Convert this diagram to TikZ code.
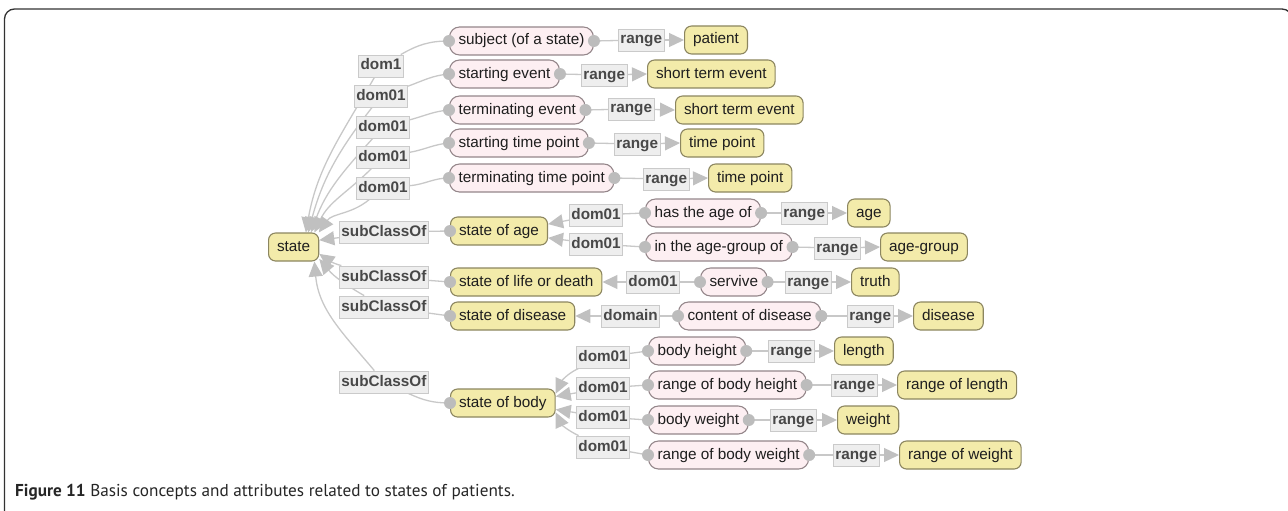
\documentclass[tikz,border=0pt]{standalone}
\usepackage{fontspec}
\setmainfont{Liberation Sans}
\newfontfamily\capfont{PT Sans}
\usetikzlibrary{arrows.meta}

\definecolor{clsfill}{RGB}{243,235,170}
\definecolor{clsdraw}{RGB}{140,134,96}
\definecolor{propfill}{RGB}{253,239,242}
\definecolor{propdraw}{RGB}{148,134,138}
\definecolor{labfill}{RGB}{238,238,238}
\definecolor{labdraw}{RGB}{202,202,202}
\definecolor{labtext}{RGB}{72,72,72}
\definecolor{nodetext}{RGB}{30,30,30}
\definecolor{edgec}{RGB}{200,200,200}
\definecolor{tipc}{RGB}{192,192,192}
\definecolor{dotc}{RGB}{188,188,188}
\definecolor{framec}{RGB}{50,50,50}

\pgfdeclarelayer{bg}
\pgfsetlayers{bg,main}

\begin{document}
\begin{tikzpicture}[x=1pt,y=-1pt,
  every node/.style={font=\fontsize{15.3}{18}\selectfont, text height=11pt, text depth=3pt},
  cls/.style={draw=clsdraw, fill=clsfill, line width=1.1pt, rounded corners=7pt,
    minimum height=28pt, inner xsep=8.5pt, anchor=west, text=nodetext},
  prop/.style={draw=propdraw, fill=propfill, line width=1.1pt, rounded corners=10pt,
    minimum height=28pt, inner xsep=9pt, anchor=west, text=nodetext},
  lab/.style={draw=labdraw, fill=labfill, line width=0.8pt, minimum height=22pt,
    inner xsep=2pt, font=\fontsize{15.3}{18}\selectfont\bfseries, text=labtext, anchor=west},
  edge/.style={draw=edgec, line width=1.3pt},
  arr/.style={edge, -{Triangle[length=15pt,width=14pt,color=tipc]}},
  dotfill/.style={fill=dotc}
]
\useasboundingbox (0,0) rectangle (1288,511);

% page frame
\begin{scope}
  \clip (0,0) rectangle (1288,511);
  \draw[framec, line width=1.3pt, rounded corners=10pt] (4.5,9) rectangle (1292,540);
\end{scope}

% root class
\node[cls] (state) at (268,247) {state};

% properties whose domain is "state"
\node[prop] (p1) at (449,41)  {subject (of a state)};
\node[lab]  (r1) at (618,40)  {range};
\node[cls]  (c1) at (684,40)  {patient};
\node[prop] (p2) at (449,74)  {starting event};
\node[lab]  (r2) at (581,75)  {range};
\node[cls]  (c2) at (647,74)  {short term event};
\node[prop] (p3) at (449,110) {terminating event};
\node[lab]  (r3) at (608,109) {range};
\node[cls]  (c3) at (675,110) {short term event};
\node[prop] (p4) at (449,143) {starting time point};
\node[lab]  (r4) at (614,144) {range};
\node[cls]  (c4) at (680,143) {time point};
\node[prop] (p5) at (449,178) {terminating time point};
\node[lab]  (r5) at (643,179) {range};
\node[cls]  (c5) at (708,178) {time point};

\node[lab, anchor=center] (d1) at (381,66)  {dom1};
\node[lab, anchor=center] (d2) at (381,96)  {dom01};
\node[lab, anchor=center] (d3) at (383,127) {dom01};
\node[lab, anchor=center] (d4) at (383,157) {dom01};
\node[lab, anchor=center] (d5) at (383,188) {dom01};

% subclasses
\node[lab] (sc1) at (339,232) {subClassOf};
\node[lab] (sc2) at (339,277) {subClassOf};
\node[lab] (sc3) at (339,307) {subClassOf};
\node[lab] (sc4) at (339,382) {subClassOf};

% state of age
\node[cls]  (sa)  at (450,231) {state of age};
\node[lab]  (ad1) at (569,215) {dom01};
\node[lab]  (ad2) at (569,244) {dom01};
\node[prop] (ha)  at (645,213) {has the age of};
\node[lab]  (ra1) at (781,213) {range};
\node[cls]  (age) at (847,213) {age};
\node[prop] (ig)  at (645,247) {in the age-group of};
\node[lab]  (ra2) at (814,248) {range};
\node[cls]  (agg) at (880,247) {age-group};

% state of life or death
\node[cls]  (sl)  at (450,282) {state of life or death};
\node[lab]  (ld)  at (626,282) {dom01};
\node[prop] (sv)  at (700,282) {servive};
\node[lab]  (rl)  at (785,282) {range};
\node[cls]  (tr)  at (851,282) {truth};

% state of disease
\node[cls]  (sd)  at (450,316) {state of disease};
\node[lab]  (dd)  at (601,316) {domain};
\node[prop] (cd)  at (678,316) {content of disease};
\node[lab]  (rd)  at (847,316) {range};
\node[cls]  (dis) at (913,316) {disease};

% state of body
\node[cls]  (sb)  at (450,403) {state of body};
\node[lab]  (bd1) at (576,357) {dom01};
\node[lab]  (bd2) at (576,388) {dom01};
\node[lab]  (bd3) at (576,417) {dom01};
\node[lab]  (bd4) at (576,447) {dom01};
\node[prop] (bh)  at (648,351) {body height};
\node[lab]  (rb1) at (768,351) {range};
\node[cls]  (len) at (834,351) {length};
\node[prop] (rbh) at (648,385) {range of body height};
\node[lab]  (rb2) at (831,385) {range};
\node[cls]  (rol) at (897,385) {range of length};
\node[prop] (bw)  at (648,420) {body weight};
\node[lab]  (rb3) at (770,420) {range};
\node[cls]  (wt)  at (837,420) {weight};
\node[prop] (rbw) at (648,455) {range of body weight};
\node[lab]  (rb4) at (833,455) {range};
\node[cls]  (row) at (899,455) {range of weight};

% connectors, behind the nodes
\begin{pgfonlayer}{bg}
  % domain links into "state"
  \draw[edge] (p1.west) to[out=180,in=30] (d1);
  \draw[arr]  (d1) to[out=240,in=80] (state.50);
  \draw[edge] (p2.west) to[out=185,in=20] (d2);
  \draw[arr]  (d2) to[out=232,in=75] (state.45);
  \draw[edge] (p3.west) to[out=185,in=15] (d3);
  \draw[arr]  (d3) to[out=228,in=70] (state.40);
  \draw[edge] (p4.west) to[out=185,in=10] (d4);
  \draw[arr]  (d4) to[out=225,in=65] (state.35);
  \draw[edge] (p5.west) to[out=180,in=5] (d5);
  \draw[arr]  (d5) to[out=220,in=55] (state.30);
  % ranges
  \foreach \p/\r/\c in {p1/r1/c1,p2/r2/c2,p3/r3/c3,p4/r4/c4,p5/r5/c5,
                        ha/ra1/age,ig/ra2/agg,sv/rl/tr,cd/rd/dis,
                        bh/rb1/len,rbh/rb2/rol,bw/rb3/wt,rbw/rb4/row}{
    \draw[edge] (\p.east) -- (\r);
    \draw[arr]  (\r) -- (\c.west);
  }
  % subclass links
  \draw[edge] (sa.west) -- (sc1);
  \draw[arr]  (sc1) -- (state.15);
  \draw[edge] (sl.west) -- (sc2);
  \draw[arr]  (sc2) to[out=165,in=-35] (state.-15);
  \draw[edge] (sd.west) -- (sc3);
  \draw[arr]  (sc3) to[out=150,in=-50] (state.-25);
  \draw[edge] (sb.west) to[out=180,in=-25] (sc4);
  \draw[arr]  (sc4) to[out=130,in=-85] (state.-35);
  % domain links of the subclasses
  \draw[edge] (ha.west) -- (ad1);
  \draw[arr]  (ad1) -- (sa.8);
  \draw[edge] (ig.west) -- (ad2);
  \draw[arr]  (ad2) -- (sa.-8);
  \draw[edge] (sv.west) -- (ld);
  \draw[arr]  (ld) -- (sl.east);
  \draw[edge] (cd.west) -- (dd);
  \draw[arr]  (dd) -- (sd.east);
  \draw[edge] (bh.west) -- (bd1);
  \draw[arr]  (bd1) to[out=205,in=65] (sb.10);
  \draw[edge] (rbh.west) -- (bd2);
  \draw[arr]  (bd2) -- (sb.7);
  \draw[edge] (bw.west) -- (bd3);
  \draw[arr]  (bd3) -- (sb.-7);
  \draw[edge] (rbw.west) -- (bd4);
  \draw[arr]  (bd4) to[out=155,in=-65] (sb.-10);
\end{pgfonlayer}

% connector end dots
\foreach \n in {p1,p2,p3,p4,p5,ha,ig,sv,cd,bh,rbh,bw,rbw}{
  \fill[dotfill] (\n.west) circle (6pt);
  \fill[dotfill] (\n.east) circle (6pt);
}
\foreach \n in {sa,sl,sd,sb}{
  \fill[dotfill] (\n.west) circle (6pt);
}

% caption
\node[anchor=base west, font=\capfont\fontsize{17.2}{20}\selectfont, text=black!85,
      inner sep=0pt] (cap) at (15,496)
  {\textbf{Figure 11} Basis concepts and attributes related to states of patients.};
\end{tikzpicture}
\end{document}
